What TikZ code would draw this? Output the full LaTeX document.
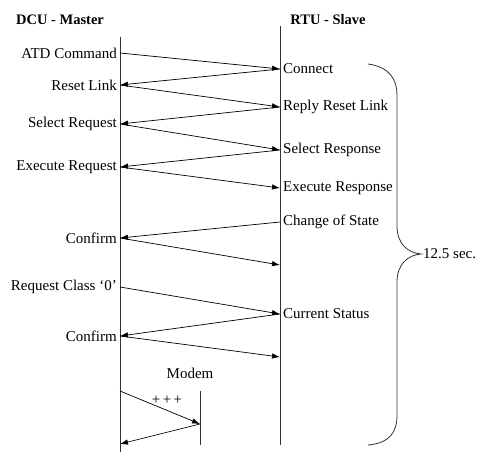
\documentclass[tikz,border=0pt]{standalone}
\usepackage{fontspec}
\setmainfont{Liberation Serif}
\usetikzlibrary{arrows.meta,positioning}
\tikzset{
  lbl/.style={font=\fontsize{15}{17}\selectfont, inner sep=0pt},
  hdr/.style={lbl, font=\fontsize{14.5}{17}\selectfont\bfseries},
  life/.style={line width=0.9pt, draw=black!80},
  msg/.style={-{Latex[length=8pt,width=5.5pt]}, line width=0.7pt},
}

\begin{document}
\begin{tikzpicture}[x=1pt, y=-1pt, node distance=3pt]
  \useasboundingbox (0,0) rectangle (481,452);
  % lifelines
  \coordinate (topL) at (120,37);  \coordinate (botL) at (120,452);
  \coordinate (topR) at (280,26);  \coordinate (botR) at (280,445);
  \draw[life] (topL) -- (botL);
  \draw[life] (topR) -- (botR);
  \node[hdr] (dcu) at (60,20) {DCU - Master};
  \node[hdr] (rtu) at (328,20) {RTU - Slave};

  % master side
  \coordinate (aL) at (120,53);
  \coordinate (bL) at (120,85);
  \coordinate (cL) at (120,124);
  \coordinate (dL) at (120,167);
  \coordinate (eL) at (120,238);
  \coordinate (fL) at (120,287);
  \coordinate (gL) at (120,336);
  \coordinate (hL) at (120,391);
  \coordinate (iL) at (120,444);
  \node[lbl, left=of aL] (atd) {ATD Command};
  \node[lbl, left=of bL] (rst) {Reset Link};
  \node[lbl, left=of cL] (sreq) {Select Request};
  \node[lbl, left=of dL] (ereq) {Execute Request};
  \node[lbl, left=of eL] (cnf1) {Confirm};
  \node[lbl, left=of fL] (rcls) {Request Class `0'};
  \node[lbl, left=of gL] (cnf2) {Confirm};

  % slave side
  \coordinate (aR) at (280,69);
  \coordinate (bR) at (280,107);
  \coordinate (cR) at (280,150);
  \coordinate (dR) at (280,188);
  \coordinate (eR) at (280,222);
  \coordinate (fR) at (280,265);
  \coordinate (gR) at (280,314);
  \coordinate (hR) at (280,357);
  \node[lbl, right=of aR] (con) {Connect};
  \node[lbl, right=of bR] (rrl) {Reply Reset Link};
  \node[lbl, right=of cR] (sres) {Select Response};
  \node[lbl, right=of dR] (eres) {Execute Response};
  \node[lbl, right=of eR] (cos) {Change of State};
  \node[lbl, right=of gR] (cur) {Current Status};

  % modem
  \coordinate (mTop) at (200,391); \coordinate (mBot) at (200,445);
  \coordinate (mA) at (200,424);
  \draw[life] (mTop) -- (mBot);
  \node[lbl] (modem) at (190,373) {Modem};
  \node[lbl] (plus) at (167,400) {+\,+\,+};

  \foreach \u/\v in {aL/aR,aR/bL,bL/bR,bR/cL,cL/cR,cR/dL,dL/dR,eR/eL,eL/fR,fL/gR,gR/gL,gL/hR,hL/mA,mA/iL}
    \draw[msg] (\u) -- (\v);

  % brace
  \coordinate (tip) at (421,254);
  \draw[life, line width=0.8pt] (368,64) .. controls (390,67) and (397,80) .. (397,95) -- (397,226)
    .. controls (397,244) and (408,253) .. (tip)
    .. controls (408,255) and (397,264) .. (397,282) -- (397,415)
    .. controls (397,432) and (390,443) .. (368,445);
  \node[lbl, right=2pt of tip] (dur) {12.5 sec.};
\end{tikzpicture}
\end{document}
